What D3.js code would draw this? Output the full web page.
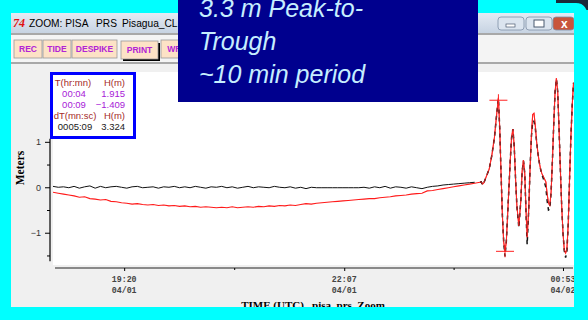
<!DOCTYPE html>
<html><head><meta charset="utf-8">
<script src="https://cdn.jsdelivr.net/npm/d3@7"></script>
<style>html,body{margin:0;padding:0;background:#00ffff;} svg{display:block;}</style>
</head><body><svg id="c" width="588" height="320"></svg>
<script>
// ---------------- DATA ----------------
// time in minutes after 04/01 00:00 (UTC)
const flatStart = 1106, flatStep = 4;
const blackFlat = [0.02,0.00,0.01,-0.01,0.02,-0.02,0.01,0.03,-0.02,0.02,
  -0.01,0.01,0.02,0.00,-0.02,0.01,0.02,-0.01,0.00,0.01,
  -0.02,0.01,0.00,0.02,-0.01,0.01,-0.01,0.02,0.00,-0.02,
  0.01,0.00,0.02,-0.01,0.01,-0.02,0.00,0.02,-0.01,0.01,
  0.00,-0.01,0.02,0.00,-0.01,0.01,-0.02,0.00,-0.03,0.00,
  -0.01,-0.01,-0.01,-0.01,-0.01,-0.01,-0.01,-0.01,-0.01,0.00,
  -0.02,0.01,-0.01,0.02,-0.02,0.01,0.00,-0.02,0.01,-0.01,
  -0.03,0.00,0.02,0.03,0.05,0.06,0.07,0.08,0.09,0.10,0.11];
const redFlat = [-0.11,-0.13,-0.15,-0.17,-0.19,-0.22,-0.21,-0.25,-0.26,-0.28,
  -0.27,-0.31,-0.32,-0.34,-0.35,-0.37,-0.36,-0.38,-0.39,-0.38,
  -0.40,-0.39,-0.41,-0.40,-0.42,-0.41,-0.43,-0.42,-0.44,-0.43,
  -0.44,-0.45,-0.44,-0.45,-0.43,-0.45,-0.44,-0.43,-0.44,-0.42,
  -0.43,-0.41,-0.42,-0.40,-0.41,-0.39,-0.40,-0.38,-0.36,-0.37,
  -0.35,-0.34,-0.33,-0.32,-0.31,-0.30,-0.29,-0.28,-0.27,-0.26,
  -0.25,-0.25,-0.23,-0.22,-0.21,-0.19,-0.18,-0.17,-0.15,-0.14,
  -0.13,-0.08,-0.07,-0.05,-0.03,-0.01,0.01,0.03,0.05,0.07,0.09];
const waveTimes = [1430,1431,1432,1433,1435,1437,1439,1441,1442.5,1444,
  1445,1446,1447,1448,1449,1450,1451,1452,1453,1454,
  1455,1456,1457,1458,1459.5,1461,1462,1463,1464,1465,
  1465.8,1467,1468,1469,1470,1471,1472,1473,1474,1475,
  1476,1477,1478,1479,1480,1481,1482,1483,1484,1485,
  1486,1487,1488,1489,1490,1491,1492,1493,1494,1495,
  1496,1497,1498,1499,1500,1501];
const blackWave = [0.11,0.12,0.05,0.10,0.25,0.40,0.70,1.10,1.55,1.95,
  1.30,0.30,-0.60,-1.20,-1.52,-1.20,-0.60,0.00,0.60,1.10,
  1.28,0.90,0.20,-0.40,-0.89,-0.30,0.35,0.58,0.30,-0.60,
  -1.26,-0.50,0.40,1.10,1.45,1.45,1.30,1.00,0.75,0.55,
  0.40,0.28,0.20,0.10,0.00,-0.30,-0.50,-0.48,-0.10,0.60,
  1.40,2.10,2.38,2.10,1.30,0.40,-0.40,-1.00,-1.40,-1.55,
  -1.40,-0.80,0.20,1.10,1.80,2.30];
const redWave = [0.11,0.12,0.07,0.10,0.25,0.40,0.70,1.10,1.55,1.97,
  1.30,0.30,-0.60,-1.20,-1.41,-1.20,-0.60,0.00,0.60,1.10,
  1.28,0.90,0.20,-0.40,-0.85,-0.30,0.35,0.60,0.30,-0.55,
  -1.10,-0.50,0.40,1.10,1.60,1.63,1.35,1.00,0.75,0.55,
  0.40,0.30,0.24,0.18,0.12,-0.15,-0.35,-0.40,-0.10,0.60,
  1.40,2.10,2.40,2.10,1.30,0.40,-0.40,-1.00,-1.38,-1.45,
  -1.35,-0.80,0.20,1.10,1.80,2.30];

const xMajorTimes = [1160, 1327, 1493];
const xMajorLabels = ["19:20", "22:07", "00:53"];
const xMajorDates = ["04/01", "04/01", "04/02"];
const xMinorTimes = [1243.5, 1410];
const yMajorTicks = [-1, 0, 1];
const yMinorTicks = [-1.5, -0.5, 0.5];

const markTimes = [1444, 1449];
const markLabels = ["00:04", "00:09"];
const markValues = [1.915, -1.409];
const deltaLabel = "0005:09";
const deltaValue = 3.324;

const titleParts = ["ZOOM: PISA", "PRS", "Pisagua_CL"];
const buttons = ["REC", "TIDE", "DESPIKE", "PRINT", "WRITE"];
const buttonWidths = [28, 28, 45, 37, 40];
const noteLines = ["3.3 m Peak-to-", "Trough", "~10 min period"];

// ---------------- DRAW ----------------
const svg = d3.select("#c");
const W = 588, H = 320;

// background
svg.append("rect").attr("width", W).attr("height", H).attr("fill", "#00ffff");
svg.append("path").attr("d", "M556,0 H588 V20 Q588,3 576,3 H556 Z").attr("fill", "#1a2a3a");

// window
const win = {x: 11, y: 13, w: 563, h: 294};
svg.append("rect").attr("x", win.x).attr("y", win.y).attr("width", win.w).attr("height", win.h).attr("fill", "#f0f0f0");

// title bar gradient
const defs = svg.append("defs");
const g1 = defs.append("linearGradient").attr("id", "tb").attr("x1", 0).attr("x2", 0).attr("y1", 0).attr("y2", 1);
g1.append("stop").attr("offset", "0%").attr("stop-color", "#e4ebf4");
g1.append("stop").attr("offset", "100%").attr("stop-color", "#c7d3e2");
svg.append("rect").attr("x", win.x).attr("y", win.y).attr("width", win.w).attr("height", 20).attr("fill", "url(#tb)");
svg.append("text").attr("x", 13).attr("y", 27).attr("font-family", "Liberation Serif").attr("font-style", "italic")
  .attr("font-weight", "bold").attr("font-size", 12).attr("fill", "#e01010").text("74");
const titleX = [29, 96, 122];
titleParts.forEach((s, i) => {
  svg.append("text").attr("x", titleX[i]).attr("y", 27).attr("font-family", "Liberation Sans").attr("font-size", 10.2)
    .attr("fill", "#000").text(s);
});

// window control buttons
const ctl = [{x: 498, w: 26, f: "#dbe4ef"}, {x: 526, w: 26, f: "#dbe4ef"}, {x: 553, w: 21, f: "#c8553c"}];
ctl.forEach((c, i) => {
  svg.append("rect").attr("x", c.x).attr("y", 17).attr("width", c.w).attr("height", 13).attr("rx", 3)
    .attr("fill", c.f).attr("stroke", "#7f8fa6").attr("stroke-width", 0.8);
});
svg.append("rect").attr("x", 506).attr("y", 24).attr("width", 9).attr("height", 3).attr("fill", "#fff").attr("stroke", "#4a5a70").attr("stroke-width", 0.7);
svg.append("rect").attr("x", 534).attr("y", 20).attr("width", 10).attr("height", 7).attr("fill", "#fff").attr("stroke", "#4a5a70").attr("stroke-width", 1);
svg.append("text").attr("x", 561).attr("y", 28).attr("font-family", "Liberation Sans").attr("font-weight", "bold")
  .attr("font-size", 12).attr("fill", "#fff").text("x");

// toolbar
svg.append("rect").attr("x", win.x).attr("y", 33).attr("width", win.w).attr("height", 2).attr("fill", "#a8a8a8");
svg.append("rect").attr("x", win.x).attr("y", 35).attr("width", win.w).attr("height", 27).attr("fill", "#f4f4f4");
svg.append("rect").attr("x", win.x).attr("y", 62).attr("width", win.w).attr("height", 2).attr("fill", "#a8a8a8");
let bx = 14;
buttons.forEach((b, i) => {
  const w = buttonWidths[i];
  const pressed = b === "PRINT";
  const gx = pressed ? bx + 3 : bx;
  if (pressed) {
    svg.append("rect").attr("x", gx + 2).attr("y", 43).attr("width", w).attr("height", 18).attr("fill", "#000");
  }
  svg.append("rect").attr("x", gx).attr("y", pressed ? 41 : 40).attr("width", w).attr("height", 18)
    .attr("fill", "#fde2c6").attr("stroke", "#9a9a9a").attr("stroke-width", 0.8);
  svg.append("text").attr("x", gx + w / 2).attr("y", pressed ? 53 : 52).attr("text-anchor", "middle")
    .attr("font-family", "Liberation Sans").attr("font-weight", "bold").attr("font-size", 8.5)
    .attr("fill", "#b224d6").text(b);
  bx += w + (pressed ? 6 : 1);
});

// plot white area
const plot = {x0: 53, x1: 574, y0: 72, y1: 265};
svg.append("rect").attr("x", plot.x0).attr("y", plot.y0).attr("width", plot.x1 - plot.x0).attr("height", plot.y1 - plot.y0).attr("fill", "#fff");

// scales
const x = d3.scaleLinear().domain([1106, 1500.6]).range([53, 573]);
const y = d3.scaleLinear().domain([-1.71, 2.58]).range([265, 70]);

// series assembly
const blackFlatPts = blackFlat.map((v, i) => [flatStart + i * flatStep, v]);
const redFlatPts = redFlat.map((v, i) => [flatStart + i * flatStep, v]);
const blackWavePts = waveTimes.map((t, i) => [t, blackWave[i]]);
const redWavePts = waveTimes.map((t, i) => [t, redWave[i]]);
const line = d3.line().x(d => x(d[0])).y(d => y(d[1]));

const clip = defs.append("clipPath").attr("id", "pc");
clip.append("rect").attr("x", plot.x0).attr("y", plot.y0).attr("width", plot.x1 - plot.x0).attr("height", plot.y1 - plot.y0);
const gp = svg.append("g").attr("clip-path", "url(#pc)");

gp.append("path").attr("d", line(redFlatPts.concat(redWavePts))).attr("fill", "none").attr("stroke", "#ff1a1a").attr("stroke-width", 1.1);
gp.append("path").attr("d", line(blackFlatPts)).attr("fill", "none").attr("stroke", "#111").attr("stroke-width", 1);
gp.append("path").attr("d", line(blackWavePts)).attr("fill", "none").attr("stroke", "#111").attr("stroke-width", 1.5)
  .attr("stroke-dasharray", "4,4");
gp.append("path").attr("d", line(redWavePts)).attr("fill", "none").attr("stroke", "#ff2a2a").attr("stroke-width", 0.9).attr("opacity", 0.85);

// markers
markTimes.forEach((t, i) => {
  const cx = x(t), cy = y(markValues[i]);
  gp.append("line").attr("x1", cx - 9).attr("x2", cx + 9).attr("y1", cy).attr("y2", cy).attr("stroke", "#ff2020").attr("stroke-width", 1);
  gp.append("line").attr("x1", cx).attr("x2", cx).attr("y1", cy - 6).attr("y2", cy + 6).attr("stroke", "#ff2020").attr("stroke-width", 1);
});

// y axis
const yAxisG = svg.append("g").attr("transform", "translate(50,0)");
yAxisG.append("line").attr("x1", 0).attr("x2", 0).attr("y1", y(1.07)).attr("y2", y(-1.63)).attr("stroke", "#000").attr("stroke-width", 1.2);
const yMaj = d3.axisLeft(y).tickValues(yMajorTicks).tickSize(5).tickPadding(4).tickFormat(d3.format("d"));
const yMajG = yAxisG.append("g").call(yMaj);
yMajG.select(".domain").remove();
yMajG.selectAll("text").attr("font-family", "Liberation Sans").attr("font-size", 9).attr("fill", "#333").text(d => d < 0 ? "\u2212" + Math.abs(d) : d);
const yMin = d3.axisLeft(y).tickValues(yMinorTicks).tickSize(3).tickFormat("");
const yMinG = yAxisG.append("g").call(yMin);
yMinG.select(".domain").remove();
svg.append("text").attr("transform", "translate(24,168) rotate(-90)").attr("text-anchor", "middle")
  .attr("font-family", "Liberation Serif").attr("font-weight", "bold").attr("font-size", 11.5).attr("fill", "#000").text("Meters");

// x axis
const xAxisG = svg.append("g").attr("transform", "translate(0,268)");
xAxisG.append("line").attr("x1", 55).attr("x2", 573).attr("y1", 0).attr("y2", 0).attr("stroke", "#222").attr("stroke-width", 1.2);
const xMaj = d3.axisBottom(x).tickValues(xMajorTimes).tickSize(3).tickFormat("");
const xMajG = xAxisG.append("g").call(xMaj);
xMajG.select(".domain").remove();
const xMin = d3.axisBottom(x).tickValues(xMinorTimes).tickSize(2).tickFormat("");
const xMinG = xAxisG.append("g").call(xMin);
xMinG.select(".domain").remove();
xMajorTimes.forEach((t, i) => {
  const tx = svg.append("text").attr("x", x(t)).attr("text-anchor", "middle").attr("font-family", "Liberation Mono")
    .attr("font-weight", "bold").attr("font-size", 8.3).attr("fill", "#444");
  tx.append("tspan").attr("x", x(t)).attr("y", 282).text(xMajorLabels[i]);
  tx.append("tspan").attr("x", x(t)).attr("y", 293).text(xMajorDates[i]);
});
svg.append("text").attr("x", 313).attr("y", 309).attr("text-anchor", "middle").attr("font-family", "Liberation Serif")
  .attr("font-weight", "bold").attr("font-size", 11).attr("fill", "#000").style("white-space", "pre")
  .text("TIME (UTC)   pisa_prs_Zoom");

// info box
svg.append("rect").attr("x", 51.5).attr("y", 73.5).attr("width", 83).attr("height", 64).attr("fill", "#fff")
  .attr("stroke", "#0000ff").attr("stroke-width", 3);
const ib = svg.append("g").attr("font-family", "Liberation Sans").attr("font-size", 9.5);
const hdr = "#a52a2a", pur = "#a820d8";
ib.append("text").attr("x", 73).attr("y", 86).attr("text-anchor", "middle").attr("fill", hdr).text("T(hr:mn)");
ib.append("text").attr("x", 125).attr("y", 86).attr("text-anchor", "end").attr("fill", hdr).text("H(m)");
markLabels.forEach((l, i) => {
  ib.append("text").attr("x", 74).attr("y", 97 + i * 11).attr("text-anchor", "middle").attr("fill", pur).text(l);
  ib.append("text").attr("x", 125).attr("y", 97 + i * 11).attr("text-anchor", "end").attr("fill", pur).text(d3.format(".3f")(markValues[i]));
});
ib.append("text").attr("x", 75).attr("y", 119).attr("text-anchor", "middle").attr("fill", hdr).text("dT(mn:sc)");
ib.append("text").attr("x", 125).attr("y", 119).attr("text-anchor", "end").attr("fill", hdr).text("H(m)");
ib.append("text").attr("x", 75).attr("y", 130).attr("text-anchor", "middle").attr("fill", "#1a1a1a").text(deltaLabel);
ib.append("text").attr("x", 125).attr("y", 130).attr("text-anchor", "end").attr("fill", "#1a1a1a").text(d3.format(".3f")(deltaValue));

// cyan frame overlay
svg.append("rect").attr("x", 574).attr("y", 10).attr("width", 14).attr("height", 310).attr("fill", "#00ffff");
svg.append("rect").attr("x", 0).attr("y", 307).attr("width", 588).attr("height", 13).attr("fill", "#00ffff");
svg.append("rect").attr("x", 0).attr("y", 0).attr("width", 11).attr("height", 320).attr("fill", "#00ffff");

// navy annotation box
svg.append("rect").attr("x", 178).attr("y", 0).attr("width", 300).attr("height", 102).attr("fill", "#00008e");
noteLines.forEach((s, i) => {
  svg.append("text").attr("x", 199).attr("y", 17 + i * 33).attr("font-family", "Liberation Sans").attr("font-style", "italic")
    .attr("font-size", 25).attr("fill", "#c6eeff").text(s);
});
</script></body></html>
